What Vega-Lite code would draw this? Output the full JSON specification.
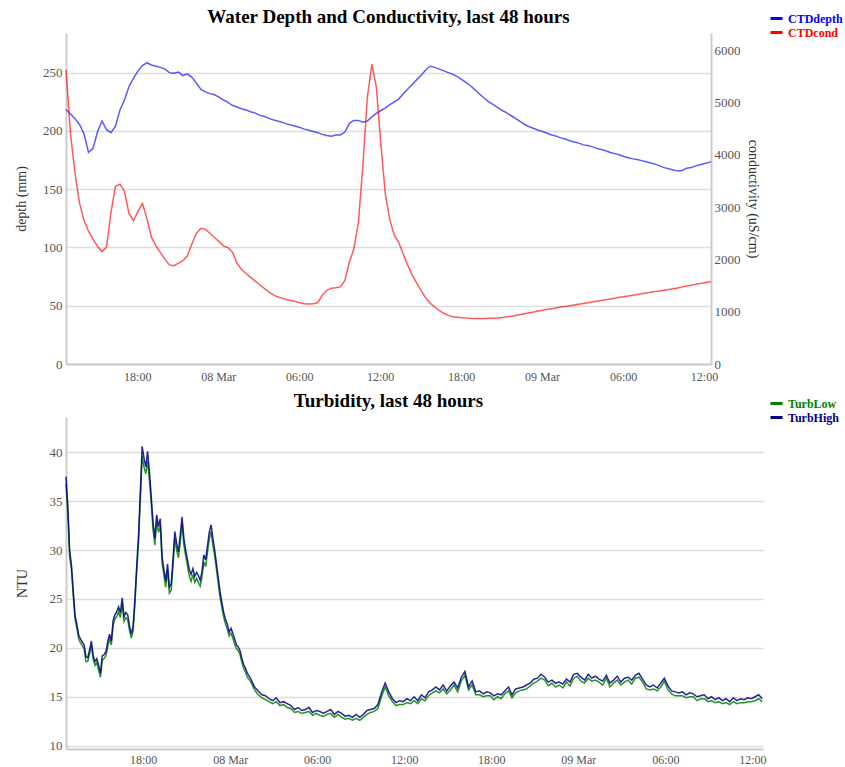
{
"$schema": "https://vega.github.io/schema/vega-lite/v6.json",
"background": "white",
"padding": {"left": 14, "top": 8, "right": 0, "bottom": 0},
"spacing": 10,
"config": {
  "font": "Liberation Serif",
  "view": {"stroke": null},
  "axis": {"labelFont": "Liberation Serif", "labelFontSize": 12, "labelColor": "#555", "titleFont": "Liberation Serif", "titleFontSize": 14, "titleFontWeight": "normal", "titleColor": "#333", "domainColor": "#ccc", "domainWidth": 2, "gridColor": "#ddd", "gridWidth": 1.5, "ticks": false},
  "title": {"font": "Liberation Serif", "fontSize": 19, "fontWeight": "bold", "color": "#000"}
},
"datasets": {
"ctd": [
{"t":"2024-03-07T12:43:00Z","depth":218.4,"cond":5630},
{"t":"2024-03-07T13:03:00Z","depth":214.5,"cond":4400},
{"t":"2024-03-07T13:23:00Z","depth":210.5,"cond":3650},
{"t":"2024-03-07T13:43:00Z","depth":205.5,"cond":3080},
{"t":"2024-03-07T14:03:00Z","depth":197.5,"cond":2750},
{"t":"2024-03-07T14:23:00Z","depth":181.5,"cond":2540},
{"t":"2024-03-07T14:43:00Z","depth":185,"cond":2390},
{"t":"2024-03-07T15:03:00Z","depth":199,"cond":2250},
{"t":"2024-03-07T15:23:00Z","depth":208.5,"cond":2150},
{"t":"2024-03-07T15:43:00Z","depth":201,"cond":2230},
{"t":"2024-03-07T16:03:00Z","depth":198.5,"cond":2900},
{"t":"2024-03-07T16:23:00Z","depth":204,"cond":3400},
{"t":"2024-03-07T16:43:00Z","depth":218,"cond":3440},
{"t":"2024-03-07T17:03:00Z","depth":226.5,"cond":3300},
{"t":"2024-03-07T17:23:00Z","depth":238,"cond":2880},
{"t":"2024-03-07T17:43:00Z","depth":245,"cond":2740},
{"t":"2024-03-07T18:03:00Z","depth":251.5,"cond":2920},
{"t":"2024-03-07T18:23:00Z","depth":256,"cond":3070},
{"t":"2024-03-07T18:43:00Z","depth":258.5,"cond":2780},
{"t":"2024-03-07T19:03:00Z","depth":256.5,"cond":2420},
{"t":"2024-03-07T19:23:00Z","depth":255.5,"cond":2260},
{"t":"2024-03-07T19:43:00Z","depth":254.5,"cond":2130},
{"t":"2024-03-07T20:03:00Z","depth":253,"cond":2000},
{"t":"2024-03-07T20:23:00Z","depth":250,"cond":1895},
{"t":"2024-03-07T20:43:00Z","depth":249.5,"cond":1880},
{"t":"2024-03-07T21:03:00Z","depth":250.5,"cond":1930},
{"t":"2024-03-07T21:23:00Z","depth":247.5,"cond":1975},
{"t":"2024-03-07T21:43:00Z","depth":249,"cond":2070},
{"t":"2024-03-07T22:03:00Z","depth":246,"cond":2300},
{"t":"2024-03-07T22:23:00Z","depth":241,"cond":2500},
{"t":"2024-03-07T22:43:00Z","depth":235.5,"cond":2596},
{"t":"2024-03-07T23:03:00Z","depth":233.5,"cond":2575},
{"t":"2024-03-07T23:23:00Z","depth":232,"cond":2500},
{"t":"2024-03-07T23:43:00Z","depth":231,"cond":2420},
{"t":"2024-03-08T00:03:00Z","depth":229,"cond":2340},
{"t":"2024-03-08T00:23:00Z","depth":226.5,"cond":2260},
{"t":"2024-03-08T00:43:00Z","depth":224.5,"cond":2225},
{"t":"2024-03-08T01:03:00Z","depth":222,"cond":2140},
{"t":"2024-03-08T01:23:00Z","depth":220.5,"cond":1930},
{"t":"2024-03-08T01:43:00Z","depth":219,"cond":1810},
{"t":"2024-03-08T02:03:00Z","depth":218,"cond":1730},
{"t":"2024-03-08T02:23:00Z","depth":216.5,"cond":1660},
{"t":"2024-03-08T02:43:00Z","depth":215.5,"cond":1590},
{"t":"2024-03-08T03:03:00Z","depth":213.5,"cond":1520},
{"t":"2024-03-08T03:23:00Z","depth":212.5,"cond":1450},
{"t":"2024-03-08T03:43:00Z","depth":211,"cond":1385},
{"t":"2024-03-08T04:03:00Z","depth":209.5,"cond":1325},
{"t":"2024-03-08T04:23:00Z","depth":208.5,"cond":1285},
{"t":"2024-03-08T04:43:00Z","depth":207.5,"cond":1260},
{"t":"2024-03-08T05:03:00Z","depth":206,"cond":1235},
{"t":"2024-03-08T05:23:00Z","depth":205,"cond":1215},
{"t":"2024-03-08T05:43:00Z","depth":204,"cond":1195},
{"t":"2024-03-08T06:03:00Z","depth":203,"cond":1170},
{"t":"2024-03-08T06:23:00Z","depth":201.5,"cond":1152},
{"t":"2024-03-08T06:43:00Z","depth":200.5,"cond":1148},
{"t":"2024-03-08T07:03:00Z","depth":199.5,"cond":1150},
{"t":"2024-03-08T07:23:00Z","depth":198.5,"cond":1175},
{"t":"2024-03-08T07:43:00Z","depth":197,"cond":1320},
{"t":"2024-03-08T08:03:00Z","depth":196,"cond":1410},
{"t":"2024-03-08T08:23:00Z","depth":195.5,"cond":1450},
{"t":"2024-03-08T08:43:00Z","depth":196.5,"cond":1460},
{"t":"2024-03-08T09:03:00Z","depth":196.5,"cond":1475},
{"t":"2024-03-08T09:23:00Z","depth":199,"cond":1600},
{"t":"2024-03-08T09:43:00Z","depth":206.5,"cond":1950},
{"t":"2024-03-08T10:03:00Z","depth":209,"cond":2200},
{"t":"2024-03-08T10:23:00Z","depth":209,"cond":2700},
{"t":"2024-03-08T10:43:00Z","depth":207.5,"cond":3800},
{"t":"2024-03-08T11:03:00Z","depth":208.5,"cond":5100},
{"t":"2024-03-08T11:23:00Z","depth":212,"cond":5730},
{"t":"2024-03-08T11:43:00Z","depth":215,"cond":5300},
{"t":"2024-03-08T12:03:00Z","depth":217.5,"cond":4200},
{"t":"2024-03-08T12:23:00Z","depth":219.5,"cond":3250},
{"t":"2024-03-08T12:43:00Z","depth":222.5,"cond":2750},
{"t":"2024-03-08T13:03:00Z","depth":225,"cond":2460},
{"t":"2024-03-08T13:23:00Z","depth":227.5,"cond":2320},
{"t":"2024-03-08T13:43:00Z","depth":232,"cond":2100},
{"t":"2024-03-08T14:03:00Z","depth":236,"cond":1880},
{"t":"2024-03-08T14:23:00Z","depth":240,"cond":1700},
{"t":"2024-03-08T14:43:00Z","depth":244,"cond":1540},
{"t":"2024-03-08T15:03:00Z","depth":248,"cond":1400},
{"t":"2024-03-08T15:23:00Z","depth":252.5,"cond":1260},
{"t":"2024-03-08T15:43:00Z","depth":255.5,"cond":1160},
{"t":"2024-03-08T16:03:00Z","depth":254.5,"cond":1090},
{"t":"2024-03-08T16:23:00Z","depth":253,"cond":1022},
{"t":"2024-03-08T16:43:00Z","depth":251.5,"cond":970},
{"t":"2024-03-08T17:03:00Z","depth":250,"cond":930},
{"t":"2024-03-08T17:23:00Z","depth":248.5,"cond":905},
{"t":"2024-03-08T17:43:00Z","depth":246.5,"cond":895},
{"t":"2024-03-08T18:03:00Z","depth":244,"cond":885},
{"t":"2024-03-08T18:23:00Z","depth":241.5,"cond":878},
{"t":"2024-03-08T18:43:00Z","depth":238.5,"cond":873},
{"t":"2024-03-08T19:03:00Z","depth":235,"cond":872},
{"t":"2024-03-08T19:23:00Z","depth":231.5,"cond":871},
{"t":"2024-03-08T19:43:00Z","depth":228,"cond":872},
{"t":"2024-03-08T20:03:00Z","depth":225,"cond":873},
{"t":"2024-03-08T20:23:00Z","depth":222.5,"cond":875},
{"t":"2024-03-08T20:43:00Z","depth":220,"cond":878},
{"t":"2024-03-08T21:03:00Z","depth":217.5,"cond":888},
{"t":"2024-03-08T21:23:00Z","depth":215.5,"cond":900},
{"t":"2024-03-08T21:43:00Z","depth":213,"cond":912},
{"t":"2024-03-08T22:03:00Z","depth":210.5,"cond":928},
{"t":"2024-03-08T22:23:00Z","depth":208,"cond":945},
{"t":"2024-03-08T22:43:00Z","depth":205.5,"cond":962},
{"t":"2024-03-08T23:03:00Z","depth":203.5,"cond":980},
{"t":"2024-03-08T23:23:00Z","depth":202,"cond":995},
{"t":"2024-03-08T23:43:00Z","depth":200.5,"cond":1012},
{"t":"2024-03-09T00:03:00Z","depth":199.5,"cond":1030},
{"t":"2024-03-09T00:23:00Z","depth":198,"cond":1045},
{"t":"2024-03-09T00:43:00Z","depth":196.5,"cond":1058},
{"t":"2024-03-09T01:03:00Z","depth":195.5,"cond":1072},
{"t":"2024-03-09T01:23:00Z","depth":194,"cond":1088},
{"t":"2024-03-09T01:43:00Z","depth":193,"cond":1100},
{"t":"2024-03-09T02:03:00Z","depth":191.5,"cond":1113},
{"t":"2024-03-09T02:23:00Z","depth":190.5,"cond":1127},
{"t":"2024-03-09T02:43:00Z","depth":189.5,"cond":1142},
{"t":"2024-03-09T03:03:00Z","depth":188,"cond":1158},
{"t":"2024-03-09T03:23:00Z","depth":187.5,"cond":1172},
{"t":"2024-03-09T03:43:00Z","depth":186.5,"cond":1186},
{"t":"2024-03-09T04:03:00Z","depth":185,"cond":1200},
{"t":"2024-03-09T04:23:00Z","depth":184,"cond":1214},
{"t":"2024-03-09T04:43:00Z","depth":183,"cond":1228},
{"t":"2024-03-09T05:03:00Z","depth":181.5,"cond":1242},
{"t":"2024-03-09T05:23:00Z","depth":180.5,"cond":1256},
{"t":"2024-03-09T05:43:00Z","depth":179.5,"cond":1275},
{"t":"2024-03-09T06:03:00Z","depth":178,"cond":1288},
{"t":"2024-03-09T06:23:00Z","depth":177,"cond":1302},
{"t":"2024-03-09T06:43:00Z","depth":176,"cond":1316},
{"t":"2024-03-09T07:03:00Z","depth":175.5,"cond":1330},
{"t":"2024-03-09T07:23:00Z","depth":174.5,"cond":1345},
{"t":"2024-03-09T07:43:00Z","depth":173.5,"cond":1358},
{"t":"2024-03-09T08:03:00Z","depth":172.5,"cond":1372},
{"t":"2024-03-09T08:23:00Z","depth":171.5,"cond":1385},
{"t":"2024-03-09T08:43:00Z","depth":170,"cond":1398},
{"t":"2024-03-09T09:03:00Z","depth":168.5,"cond":1410},
{"t":"2024-03-09T09:23:00Z","depth":167.5,"cond":1425},
{"t":"2024-03-09T09:43:00Z","depth":166.5,"cond":1440},
{"t":"2024-03-09T10:03:00Z","depth":165.5,"cond":1455},
{"t":"2024-03-09T10:23:00Z","depth":166,"cond":1475},
{"t":"2024-03-09T10:43:00Z","depth":168,"cond":1490},
{"t":"2024-03-09T11:03:00Z","depth":168.5,"cond":1505},
{"t":"2024-03-09T11:23:00Z","depth":170,"cond":1525},
{"t":"2024-03-09T11:43:00Z","depth":171,"cond":1540},
{"t":"2024-03-09T12:03:00Z","depth":172,"cond":1555},
{"t":"2024-03-09T12:23:00Z","depth":173,"cond":1570},
{"t":"2024-03-09T12:31:00Z","depth":173.5,"cond":1580}
],
"turb": [
{"t":"2024-03-07T12:41:00Z","TurbHigh":37.5,"TurbLow":36.8},
{"t":"2024-03-07T12:48:30Z","TurbHigh":34.5,"TurbLow":33.8},
{"t":"2024-03-07T12:56:00Z","TurbHigh":30.0,"TurbLow":29.3},
{"t":"2024-03-07T13:03:30Z","TurbHigh":28.5,"TurbLow":28.0},
{"t":"2024-03-07T13:11:00Z","TurbHigh":25.8,"TurbLow":25.3},
{"t":"2024-03-07T13:18:30Z","TurbHigh":23.3,"TurbLow":22.9},
{"t":"2024-03-07T13:26:00Z","TurbHigh":22.4,"TurbLow":22.0},
{"t":"2024-03-07T13:33:30Z","TurbHigh":21.3,"TurbLow":20.9},
{"t":"2024-03-07T13:41:00Z","TurbHigh":20.9,"TurbLow":20.5},
{"t":"2024-03-07T13:48:30Z","TurbHigh":20.6,"TurbLow":20.2},
{"t":"2024-03-07T13:56:00Z","TurbHigh":20.3,"TurbLow":19.9},
{"t":"2024-03-07T14:03:30Z","TurbHigh":19.1,"TurbLow":18.6},
{"t":"2024-03-07T14:11:00Z","TurbHigh":19.0,"TurbLow":18.6},
{"t":"2024-03-07T14:18:30Z","TurbHigh":19.8,"TurbLow":19.4},
{"t":"2024-03-07T14:26:00Z","TurbHigh":20.7,"TurbLow":20.2},
{"t":"2024-03-07T14:33:30Z","TurbHigh":19.2,"TurbLow":18.8},
{"t":"2024-03-07T14:41:00Z","TurbHigh":18.6,"TurbLow":18.2},
{"t":"2024-03-07T14:48:30Z","TurbHigh":18.9,"TurbLow":18.5},
{"t":"2024-03-07T14:56:00Z","TurbHigh":18.2,"TurbLow":17.7},
{"t":"2024-03-07T15:03:30Z","TurbHigh":17.4,"TurbLow":17.0},
{"t":"2024-03-07T15:11:00Z","TurbHigh":19.2,"TurbLow":18.7},
{"t":"2024-03-07T15:18:30Z","TurbHigh":19.3,"TurbLow":18.9},
{"t":"2024-03-07T15:26:00Z","TurbHigh":19.6,"TurbLow":19.2},
{"t":"2024-03-07T15:33:30Z","TurbHigh":20.6,"TurbLow":20.1},
{"t":"2024-03-07T15:41:00Z","TurbHigh":21.4,"TurbLow":20.9},
{"t":"2024-03-07T15:48:30Z","TurbHigh":20.7,"TurbLow":20.3},
{"t":"2024-03-07T15:56:00Z","TurbHigh":22.8,"TurbLow":22.3},
{"t":"2024-03-07T16:03:30Z","TurbHigh":23.4,"TurbLow":23.0},
{"t":"2024-03-07T16:11:00Z","TurbHigh":23.7,"TurbLow":23.2},
{"t":"2024-03-07T16:18:30Z","TurbHigh":24.2,"TurbLow":23.7},
{"t":"2024-03-07T16:26:00Z","TurbHigh":23.6,"TurbLow":23.1},
{"t":"2024-03-07T16:33:30Z","TurbHigh":25.1,"TurbLow":24.5},
{"t":"2024-03-07T16:41:00Z","TurbHigh":23.2,"TurbLow":22.7},
{"t":"2024-03-07T16:48:30Z","TurbHigh":23.6,"TurbLow":23.1},
{"t":"2024-03-07T16:56:00Z","TurbHigh":23.4,"TurbLow":22.9},
{"t":"2024-03-07T17:03:30Z","TurbHigh":22.3,"TurbLow":21.8},
{"t":"2024-03-07T17:11:00Z","TurbHigh":21.4,"TurbLow":21.0},
{"t":"2024-03-07T17:18:30Z","TurbHigh":22.2,"TurbLow":21.7},
{"t":"2024-03-07T17:26:00Z","TurbHigh":25.0,"TurbLow":24.4},
{"t":"2024-03-07T17:33:30Z","TurbHigh":28.4,"TurbLow":27.8},
{"t":"2024-03-07T17:41:00Z","TurbHigh":31.5,"TurbLow":30.8},
{"t":"2024-03-07T17:48:30Z","TurbHigh":36.0,"TurbLow":35.2},
{"t":"2024-03-07T17:56:00Z","TurbHigh":40.6,"TurbLow":39.6},
{"t":"2024-03-07T18:03:30Z","TurbHigh":39.4,"TurbLow":38.5},
{"t":"2024-03-07T18:11:00Z","TurbHigh":38.5,"TurbLow":37.8},
{"t":"2024-03-07T18:18:30Z","TurbHigh":40.1,"TurbLow":39.1},
{"t":"2024-03-07T18:26:00Z","TurbHigh":38.0,"TurbLow":37.2},
{"t":"2024-03-07T18:33:30Z","TurbHigh":35.5,"TurbLow":34.8},
{"t":"2024-03-07T18:41:00Z","TurbHigh":32.8,"TurbLow":32.1},
{"t":"2024-03-07T18:48:30Z","TurbHigh":31.2,"TurbLow":30.5},
{"t":"2024-03-07T18:56:00Z","TurbHigh":33.6,"TurbLow":32.9},
{"t":"2024-03-07T19:03:30Z","TurbHigh":32.4,"TurbLow":31.8},
{"t":"2024-03-07T19:11:00Z","TurbHigh":33.2,"TurbLow":32.5},
{"t":"2024-03-07T19:18:30Z","TurbHigh":29.3,"TurbLow":28.7},
{"t":"2024-03-07T19:26:00Z","TurbHigh":28.0,"TurbLow":27.4},
{"t":"2024-03-07T19:33:30Z","TurbHigh":26.8,"TurbLow":26.2},
{"t":"2024-03-07T19:41:00Z","TurbHigh":28.6,"TurbLow":28.0},
{"t":"2024-03-07T19:48:30Z","TurbHigh":26.2,"TurbLow":25.6},
{"t":"2024-03-07T19:56:00Z","TurbHigh":26.5,"TurbLow":25.9},
{"t":"2024-03-07T20:03:30Z","TurbHigh":29.0,"TurbLow":28.4},
{"t":"2024-03-07T20:11:00Z","TurbHigh":31.9,"TurbLow":31.2},
{"t":"2024-03-07T20:18:30Z","TurbHigh":30.7,"TurbLow":30.0},
{"t":"2024-03-07T20:26:00Z","TurbHigh":29.8,"TurbLow":29.2},
{"t":"2024-03-07T20:33:30Z","TurbHigh":31.5,"TurbLow":30.8},
{"t":"2024-03-07T20:41:00Z","TurbHigh":33.4,"TurbLow":32.7},
{"t":"2024-03-07T20:48:30Z","TurbHigh":31.2,"TurbLow":30.5},
{"t":"2024-03-07T20:56:00Z","TurbHigh":30.0,"TurbLow":29.4},
{"t":"2024-03-07T21:03:30Z","TurbHigh":29.0,"TurbLow":28.4},
{"t":"2024-03-07T21:11:00Z","TurbHigh":28.0,"TurbLow":27.3},
{"t":"2024-03-07T21:18:30Z","TurbHigh":27.5,"TurbLow":26.8},
{"t":"2024-03-07T21:26:00Z","TurbHigh":28.1,"TurbLow":27.5},
{"t":"2024-03-07T21:33:30Z","TurbHigh":27.3,"TurbLow":26.7},
{"t":"2024-03-07T21:41:00Z","TurbHigh":27.7,"TurbLow":27.1},
{"t":"2024-03-07T21:48:30Z","TurbHigh":27.4,"TurbLow":26.7},
{"t":"2024-03-07T21:56:00Z","TurbHigh":26.9,"TurbLow":26.3},
{"t":"2024-03-07T22:03:30Z","TurbHigh":27.8,"TurbLow":27.2},
{"t":"2024-03-07T22:11:00Z","TurbHigh":29.5,"TurbLow":28.8},
{"t":"2024-03-07T22:18:30Z","TurbHigh":29.0,"TurbLow":28.3},
{"t":"2024-03-07T22:26:00Z","TurbHigh":30.4,"TurbLow":29.7},
{"t":"2024-03-07T22:33:30Z","TurbHigh":31.8,"TurbLow":31.1},
{"t":"2024-03-07T22:41:00Z","TurbHigh":32.6,"TurbLow":31.9},
{"t":"2024-03-07T22:48:30Z","TurbHigh":31.2,"TurbLow":30.5},
{"t":"2024-03-07T22:56:00Z","TurbHigh":30.0,"TurbLow":29.4},
{"t":"2024-03-07T23:03:30Z","TurbHigh":28.6,"TurbLow":28.0},
{"t":"2024-03-07T23:11:00Z","TurbHigh":27.1,"TurbLow":26.5},
{"t":"2024-03-07T23:18:30Z","TurbHigh":25.7,"TurbLow":25.1},
{"t":"2024-03-07T23:26:00Z","TurbHigh":24.6,"TurbLow":24.1},
{"t":"2024-03-07T23:33:30Z","TurbHigh":23.6,"TurbLow":23.1},
{"t":"2024-03-07T23:41:00Z","TurbHigh":22.9,"TurbLow":22.4},
{"t":"2024-03-07T23:48:30Z","TurbHigh":22.4,"TurbLow":21.9},
{"t":"2024-03-07T23:56:00Z","TurbHigh":21.6,"TurbLow":21.2},
{"t":"2024-03-08T00:03:30Z","TurbHigh":22.0,"TurbLow":21.5},
{"t":"2024-03-08T00:11:00Z","TurbHigh":21.5,"TurbLow":21.0},
{"t":"2024-03-08T00:18:30Z","TurbHigh":20.9,"TurbLow":20.4},
{"t":"2024-03-08T00:26:00Z","TurbHigh":20.3,"TurbLow":19.9},
{"t":"2024-03-08T00:33:30Z","TurbHigh":20.1,"TurbLow":19.7},
{"t":"2024-03-08T00:41:00Z","TurbHigh":19.7,"TurbLow":19.3},
{"t":"2024-03-08T00:48:30Z","TurbHigh":18.9,"TurbLow":18.5},
{"t":"2024-03-08T00:56:00Z","TurbHigh":18.3,"TurbLow":17.9},
{"t":"2024-03-08T01:03:30Z","TurbHigh":17.9,"TurbLow":17.5},
{"t":"2024-03-08T01:11:00Z","TurbHigh":17.4,"TurbLow":17.0},
{"t":"2024-03-08T01:26:00Z","TurbHigh":16.8,"TurbLow":16.5},
{"t":"2024-03-08T01:41:00Z","TurbHigh":16.0,"TurbLow":15.7},
{"t":"2024-03-08T01:56:00Z","TurbHigh":15.6,"TurbLow":15.2},
{"t":"2024-03-08T02:11:00Z","TurbHigh":15.2,"TurbLow":14.9},
{"t":"2024-03-08T02:26:00Z","TurbHigh":15.1,"TurbLow":14.7},
{"t":"2024-03-08T02:41:00Z","TurbHigh":14.8,"TurbLow":14.5},
{"t":"2024-03-08T02:56:00Z","TurbHigh":14.6,"TurbLow":14.3},
{"t":"2024-03-08T03:11:00Z","TurbHigh":14.9,"TurbLow":14.5},
{"t":"2024-03-08T03:26:00Z","TurbHigh":14.4,"TurbLow":14.1},
{"t":"2024-03-08T03:41:00Z","TurbHigh":14.5,"TurbLow":14.2},
{"t":"2024-03-08T03:56:00Z","TurbHigh":14.3,"TurbLow":13.9},
{"t":"2024-03-08T04:11:00Z","TurbHigh":14.1,"TurbLow":13.8},
{"t":"2024-03-08T04:26:00Z","TurbHigh":13.7,"TurbLow":13.4},
{"t":"2024-03-08T04:41:00Z","TurbHigh":13.9,"TurbLow":13.5},
{"t":"2024-03-08T04:56:00Z","TurbHigh":13.6,"TurbLow":13.3},
{"t":"2024-03-08T05:11:00Z","TurbHigh":13.7,"TurbLow":13.4},
{"t":"2024-03-08T05:26:00Z","TurbHigh":13.9,"TurbLow":13.5},
{"t":"2024-03-08T05:41:00Z","TurbHigh":13.4,"TurbLow":13.1},
{"t":"2024-03-08T05:56:00Z","TurbHigh":13.6,"TurbLow":13.3},
{"t":"2024-03-08T06:11:00Z","TurbHigh":13.5,"TurbLow":13.1},
{"t":"2024-03-08T06:26:00Z","TurbHigh":13.3,"TurbLow":13.0},
{"t":"2024-03-08T06:41:00Z","TurbHigh":13.5,"TurbLow":13.2},
{"t":"2024-03-08T06:56:00Z","TurbHigh":13.7,"TurbLow":13.3},
{"t":"2024-03-08T07:11:00Z","TurbHigh":13.2,"TurbLow":12.9},
{"t":"2024-03-08T07:26:00Z","TurbHigh":13.5,"TurbLow":13.2},
{"t":"2024-03-08T07:41:00Z","TurbHigh":13.3,"TurbLow":12.9},
{"t":"2024-03-08T07:56:00Z","TurbHigh":13.0,"TurbLow":12.7},
{"t":"2024-03-08T08:11:00Z","TurbHigh":13.1,"TurbLow":12.8},
{"t":"2024-03-08T08:26:00Z","TurbHigh":12.9,"TurbLow":12.6},
{"t":"2024-03-08T08:41:00Z","TurbHigh":13.2,"TurbLow":12.8},
{"t":"2024-03-08T08:56:00Z","TurbHigh":12.9,"TurbLow":12.6},
{"t":"2024-03-08T09:11:00Z","TurbHigh":13.2,"TurbLow":12.9},
{"t":"2024-03-08T09:26:00Z","TurbHigh":13.6,"TurbLow":13.2},
{"t":"2024-03-08T09:41:00Z","TurbHigh":13.7,"TurbLow":13.4},
{"t":"2024-03-08T09:56:00Z","TurbHigh":13.8,"TurbLow":13.5},
{"t":"2024-03-08T10:11:00Z","TurbHigh":14.2,"TurbLow":13.8},
{"t":"2024-03-08T10:26:00Z","TurbHigh":15.4,"TurbLow":15.0},
{"t":"2024-03-08T10:41:00Z","TurbHigh":16.4,"TurbLow":16.0},
{"t":"2024-03-08T10:56:00Z","TurbHigh":15.5,"TurbLow":15.1},
{"t":"2024-03-08T11:11:00Z","TurbHigh":14.8,"TurbLow":14.5},
{"t":"2024-03-08T11:26:00Z","TurbHigh":14.4,"TurbLow":14.1},
{"t":"2024-03-08T11:41:00Z","TurbHigh":14.6,"TurbLow":14.2},
{"t":"2024-03-08T11:56:00Z","TurbHigh":14.5,"TurbLow":14.2},
{"t":"2024-03-08T12:11:00Z","TurbHigh":14.8,"TurbLow":14.4},
{"t":"2024-03-08T12:26:00Z","TurbHigh":14.6,"TurbLow":14.3},
{"t":"2024-03-08T12:41:00Z","TurbHigh":15.0,"TurbLow":14.6},
{"t":"2024-03-08T12:56:00Z","TurbHigh":14.6,"TurbLow":14.3},
{"t":"2024-03-08T13:11:00Z","TurbHigh":15.2,"TurbLow":14.8},
{"t":"2024-03-08T13:26:00Z","TurbHigh":14.9,"TurbLow":14.6},
{"t":"2024-03-08T13:41:00Z","TurbHigh":15.5,"TurbLow":15.1},
{"t":"2024-03-08T13:56:00Z","TurbHigh":15.7,"TurbLow":15.4},
{"t":"2024-03-08T14:11:00Z","TurbHigh":16.0,"TurbLow":15.6},
{"t":"2024-03-08T14:26:00Z","TurbHigh":15.7,"TurbLow":15.4},
{"t":"2024-03-08T14:41:00Z","TurbHigh":16.2,"TurbLow":15.8},
{"t":"2024-03-08T14:56:00Z","TurbHigh":15.6,"TurbLow":15.3},
{"t":"2024-03-08T15:11:00Z","TurbHigh":16.1,"TurbLow":15.7},
{"t":"2024-03-08T15:26:00Z","TurbHigh":16.5,"TurbLow":16.2},
{"t":"2024-03-08T15:41:00Z","TurbHigh":15.9,"TurbLow":15.5},
{"t":"2024-03-08T15:56:00Z","TurbHigh":17.0,"TurbLow":16.6},
{"t":"2024-03-08T16:11:00Z","TurbHigh":17.6,"TurbLow":17.2},
{"t":"2024-03-08T16:26:00Z","TurbHigh":16.0,"TurbLow":15.7},
{"t":"2024-03-08T16:41:00Z","TurbHigh":16.6,"TurbLow":16.2},
{"t":"2024-03-08T16:56:00Z","TurbHigh":15.5,"TurbLow":15.2},
{"t":"2024-03-08T17:11:00Z","TurbHigh":15.6,"TurbLow":15.2},
{"t":"2024-03-08T17:26:00Z","TurbHigh":15.3,"TurbLow":15.0},
{"t":"2024-03-08T17:41:00Z","TurbHigh":15.5,"TurbLow":15.1},
{"t":"2024-03-08T17:56:00Z","TurbHigh":15.4,"TurbLow":15.1},
{"t":"2024-03-08T18:11:00Z","TurbHigh":15.1,"TurbLow":14.7},
{"t":"2024-03-08T18:26:00Z","TurbHigh":15.3,"TurbLow":15.0},
{"t":"2024-03-08T18:41:00Z","TurbHigh":15.2,"TurbLow":14.8},
{"t":"2024-03-08T18:56:00Z","TurbHigh":15.6,"TurbLow":15.3},
{"t":"2024-03-08T19:11:00Z","TurbHigh":16.0,"TurbLow":15.6},
{"t":"2024-03-08T19:26:00Z","TurbHigh":15.2,"TurbLow":14.9},
{"t":"2024-03-08T19:41:00Z","TurbHigh":15.8,"TurbLow":15.4},
{"t":"2024-03-08T19:56:00Z","TurbHigh":15.9,"TurbLow":15.6},
{"t":"2024-03-08T20:11:00Z","TurbHigh":16.0,"TurbLow":15.7},
{"t":"2024-03-08T20:26:00Z","TurbHigh":16.2,"TurbLow":15.8},
{"t":"2024-03-08T20:41:00Z","TurbHigh":16.4,"TurbLow":16.1},
{"t":"2024-03-08T20:56:00Z","TurbHigh":16.8,"TurbLow":16.4},
{"t":"2024-03-08T21:11:00Z","TurbHigh":16.9,"TurbLow":16.6},
{"t":"2024-03-08T21:26:00Z","TurbHigh":17.3,"TurbLow":16.9},
{"t":"2024-03-08T21:41:00Z","TurbHigh":17.0,"TurbLow":16.7},
{"t":"2024-03-08T21:56:00Z","TurbHigh":16.5,"TurbLow":16.1},
{"t":"2024-03-08T22:11:00Z","TurbHigh":16.7,"TurbLow":16.4},
{"t":"2024-03-08T22:26:00Z","TurbHigh":16.4,"TurbLow":16.0},
{"t":"2024-03-08T22:41:00Z","TurbHigh":16.5,"TurbLow":16.2},
{"t":"2024-03-08T22:56:00Z","TurbHigh":16.3,"TurbLow":15.9},
{"t":"2024-03-08T23:11:00Z","TurbHigh":16.8,"TurbLow":16.5},
{"t":"2024-03-08T23:26:00Z","TurbHigh":16.5,"TurbLow":16.1},
{"t":"2024-03-08T23:41:00Z","TurbHigh":17.3,"TurbLow":16.9},
{"t":"2024-03-08T23:56:00Z","TurbHigh":17.4,"TurbLow":17.1},
{"t":"2024-03-09T00:11:00Z","TurbHigh":17.0,"TurbLow":16.6},
{"t":"2024-03-09T00:26:00Z","TurbHigh":16.7,"TurbLow":16.4},
{"t":"2024-03-09T00:41:00Z","TurbHigh":17.3,"TurbLow":16.9},
{"t":"2024-03-09T00:56:00Z","TurbHigh":16.9,"TurbLow":16.6},
{"t":"2024-03-09T01:11:00Z","TurbHigh":17.1,"TurbLow":16.7},
{"t":"2024-03-09T01:26:00Z","TurbHigh":16.8,"TurbLow":16.5},
{"t":"2024-03-09T01:41:00Z","TurbHigh":16.6,"TurbLow":16.2},
{"t":"2024-03-09T01:56:00Z","TurbHigh":17.2,"TurbLow":16.9},
{"t":"2024-03-09T02:11:00Z","TurbHigh":16.4,"TurbLow":16.0},
{"t":"2024-03-09T02:26:00Z","TurbHigh":16.7,"TurbLow":16.4},
{"t":"2024-03-09T02:41:00Z","TurbHigh":17.1,"TurbLow":16.7},
{"t":"2024-03-09T02:56:00Z","TurbHigh":16.5,"TurbLow":16.2},
{"t":"2024-03-09T03:11:00Z","TurbHigh":16.9,"TurbLow":16.5},
{"t":"2024-03-09T03:26:00Z","TurbHigh":17.0,"TurbLow":16.7},
{"t":"2024-03-09T03:41:00Z","TurbHigh":16.7,"TurbLow":16.3},
{"t":"2024-03-09T03:56:00Z","TurbHigh":17.2,"TurbLow":16.9},
{"t":"2024-03-09T04:11:00Z","TurbHigh":17.4,"TurbLow":17.0},
{"t":"2024-03-09T04:26:00Z","TurbHigh":16.8,"TurbLow":16.5},
{"t":"2024-03-09T04:41:00Z","TurbHigh":16.2,"TurbLow":15.8},
{"t":"2024-03-09T04:56:00Z","TurbHigh":16.0,"TurbLow":15.7},
{"t":"2024-03-09T05:11:00Z","TurbHigh":16.2,"TurbLow":15.8},
{"t":"2024-03-09T05:26:00Z","TurbHigh":15.9,"TurbLow":15.6},
{"t":"2024-03-09T05:41:00Z","TurbHigh":16.4,"TurbLow":16.0},
{"t":"2024-03-09T05:56:00Z","TurbHigh":16.9,"TurbLow":16.6},
{"t":"2024-03-09T06:11:00Z","TurbHigh":16.1,"TurbLow":15.7},
{"t":"2024-03-09T06:26:00Z","TurbHigh":15.6,"TurbLow":15.3},
{"t":"2024-03-09T06:41:00Z","TurbHigh":15.5,"TurbLow":15.1},
{"t":"2024-03-09T06:56:00Z","TurbHigh":15.4,"TurbLow":15.1},
{"t":"2024-03-09T07:11:00Z","TurbHigh":15.5,"TurbLow":15.1},
{"t":"2024-03-09T07:26:00Z","TurbHigh":15.2,"TurbLow":14.9},
{"t":"2024-03-09T07:41:00Z","TurbHigh":15.4,"TurbLow":15.0},
{"t":"2024-03-09T07:56:00Z","TurbHigh":15.3,"TurbLow":15.0},
{"t":"2024-03-09T08:11:00Z","TurbHigh":15.0,"TurbLow":14.6},
{"t":"2024-03-09T08:26:00Z","TurbHigh":15.1,"TurbLow":14.8},
{"t":"2024-03-09T08:41:00Z","TurbHigh":15.2,"TurbLow":14.8},
{"t":"2024-03-09T08:56:00Z","TurbHigh":14.8,"TurbLow":14.5},
{"t":"2024-03-09T09:11:00Z","TurbHigh":15.0,"TurbLow":14.6},
{"t":"2024-03-09T09:26:00Z","TurbHigh":14.7,"TurbLow":14.4},
{"t":"2024-03-09T09:41:00Z","TurbHigh":14.9,"TurbLow":14.5},
{"t":"2024-03-09T09:56:00Z","TurbHigh":14.6,"TurbLow":14.3},
{"t":"2024-03-09T10:11:00Z","TurbHigh":14.8,"TurbLow":14.4},
{"t":"2024-03-09T10:26:00Z","TurbHigh":14.5,"TurbLow":14.2},
{"t":"2024-03-09T10:41:00Z","TurbHigh":14.9,"TurbLow":14.5},
{"t":"2024-03-09T10:56:00Z","TurbHigh":14.6,"TurbLow":14.3},
{"t":"2024-03-09T11:11:00Z","TurbHigh":14.8,"TurbLow":14.4},
{"t":"2024-03-09T11:26:00Z","TurbHigh":14.7,"TurbLow":14.4},
{"t":"2024-03-09T11:41:00Z","TurbHigh":14.9,"TurbLow":14.5},
{"t":"2024-03-09T11:56:00Z","TurbHigh":14.8,"TurbLow":14.5},
{"t":"2024-03-09T12:11:00Z","TurbHigh":15.0,"TurbLow":14.6},
{"t":"2024-03-09T12:26:00Z","TurbHigh":15.2,"TurbLow":14.8},
{"t":"2024-03-09T12:41:00Z","TurbHigh":14.8,"TurbLow":14.5}
]
},
"vconcat": [
{
  "title": {"text": "Water Depth and Conductivity, last 48 hours", "offset": -16},
  "width": 645,
  "height": 331,
  "data": {"name": "ctd"},
  "layer": [
    {
      "mark": {"type": "line", "strokeWidth": 1.5, "opacity": 0.65},
      "encoding": {
        "x": {"field": "t", "type": "temporal",
          "scale": {"type": "utc", "domain": [{"year": 2024, "month": 3, "date": 7, "hours": 12, "minutes": 43, "utc": true}, {"year": 2024, "month": 3, "date": 9, "hours": 12, "minutes": 31, "utc": true}]},
          "axis": {"title": null, "grid": false, "labelPadding": 7,
            "values": [{"year": 2024, "month": 3, "date": 7, "hours": 18, "utc": true}, {"year": 2024, "month": 3, "date": 8, "hours": 0, "utc": true}, {"year": 2024, "month": 3, "date": 8, "hours": 6, "utc": true}, {"year": 2024, "month": 3, "date": 8, "hours": 12, "utc": true}, {"year": 2024, "month": 3, "date": 8, "hours": 18, "utc": true}, {"year": 2024, "month": 3, "date": 9, "hours": 0, "utc": true}, {"year": 2024, "month": 3, "date": 9, "hours": 6, "utc": true}, {"year": 2024, "month": 3, "date": 9, "hours": 12, "utc": true}],
            "labelExpr": "utchours(datum.value) == 0 ? utcFormat(datum.value, '%d %b') : utcFormat(datum.value, '%H:%M')"}},
        "y": {"field": "depth", "type": "quantitative",
          "scale": {"domain": [0, 284], "nice": false, "zero": false},
          "axis": {"title": "depth (mm)", "values": [0, 50, 100, 150, 200, 250], "format": "d", "grid": true, "labelFontSize": 13, "labelPadding": 4, "titlePadding": 14}},
        "color": {"datum": "CTDdepth", "type": "nominal",
          "scale": {"domain": ["CTDdepth", "CTDcond"], "range": ["#0000ff", "#ff0000"]},
          "legend": {"orient": "none", "legendX": 703, "legendY": -22, "title": null, "padding": 0, "rowPadding": -3,
            "symbolType": "stroke", "symbolStrokeWidth": 3, "symbolSize": 144, "symbolOpacity": 1, "labelOffset": 4,
            "labelFont": "Liberation Serif", "labelFontSize": 12, "labelFontWeight": "bold",
            "encode": {"labels": {"update": {"fill": {"signal": "datum.value === 'CTDdepth' ? '#0000ff' : '#ff0000'"}}}}}}
      }
    },
    {
      "mark": {"type": "line", "strokeWidth": 1.5, "opacity": 0.65},
      "encoding": {
        "x": {"field": "t", "type": "temporal"},
        "y": {"field": "cond", "type": "quantitative",
          "scale": {"domain": [0, 6330], "nice": false, "zero": false},
          "axis": {"orient": "right", "title": "conductivity (uS/cm)", "values": [0, 1000, 2000, 3000, 4000, 5000, 6000], "format": "d", "grid": false, "labelFontSize": 13, "labelPadding": 3, "titlePadding": 5}},
        "color": {"datum": "CTDcond", "type": "nominal"}
      }
    }
  ],
  "resolve": {"scale": {"y": "independent"}}
},
{
  "title": {"text": "Turbidity, last 48 hours", "offset": -15, "dx": -26},
  "width": 697,
  "height": 332,
  "data": {"name": "turb"},
  "transform": [{"fold": ["TurbLow", "TurbHigh"], "as": ["series", "value"]}],
  "mark": {"type": "line", "strokeWidth": 1.5, "opacity": 0.85},
  "encoding": {
    "x": {"field": "t", "type": "temporal",
      "scale": {"type": "utc", "domain": [{"year": 2024, "month": 3, "date": 7, "hours": 12, "minutes": 41, "utc": true}, {"year": 2024, "month": 3, "date": 9, "hours": 12, "minutes": 44, "utc": true}]},
      "axis": {"title": null, "grid": false, "labelPadding": 5,
        "values": [{"year": 2024, "month": 3, "date": 7, "hours": 18, "utc": true}, {"year": 2024, "month": 3, "date": 8, "hours": 0, "utc": true}, {"year": 2024, "month": 3, "date": 8, "hours": 6, "utc": true}, {"year": 2024, "month": 3, "date": 8, "hours": 12, "utc": true}, {"year": 2024, "month": 3, "date": 8, "hours": 18, "utc": true}, {"year": 2024, "month": 3, "date": 9, "hours": 0, "utc": true}, {"year": 2024, "month": 3, "date": 9, "hours": 6, "utc": true}, {"year": 2024, "month": 3, "date": 9, "hours": 12, "utc": true}],
        "labelExpr": "utchours(datum.value) == 0 ? utcFormat(datum.value, '%d %b') : utcFormat(datum.value, '%H:%M')"}},
    "y": {"field": "value", "type": "quantitative",
      "scale": {"domain": [9.66, 43.6], "nice": false, "zero": false},
      "axis": {"title": "NTU", "values": [10, 15, 20, 25, 30, 35, 40], "grid": true, "labelFontSize": 13, "labelPadding": 4, "titlePadding": 20}},
    "color": {"field": "series", "type": "nominal",
      "scale": {"domain": ["TurbLow", "TurbHigh"], "range": ["#008000", "#000080"]},
      "legend": {"orient": "none", "legendX": 703, "legendY": -21, "title": null, "padding": 0, "rowPadding": -3,
        "symbolType": "stroke", "symbolStrokeWidth": 3, "symbolSize": 144, "symbolOpacity": 1, "labelOffset": 4,
        "labelFont": "Liberation Serif", "labelFontSize": 12, "labelFontWeight": "bold",
        "encode": {"labels": {"update": {"fill": {"signal": "datum.value === 'TurbLow' ? '#008000' : '#000080'"}}}}}}
  }
}
],
"resolve": {"scale": {"color": "independent", "x": "independent"}, "legend": {"color": "independent"}}
}
